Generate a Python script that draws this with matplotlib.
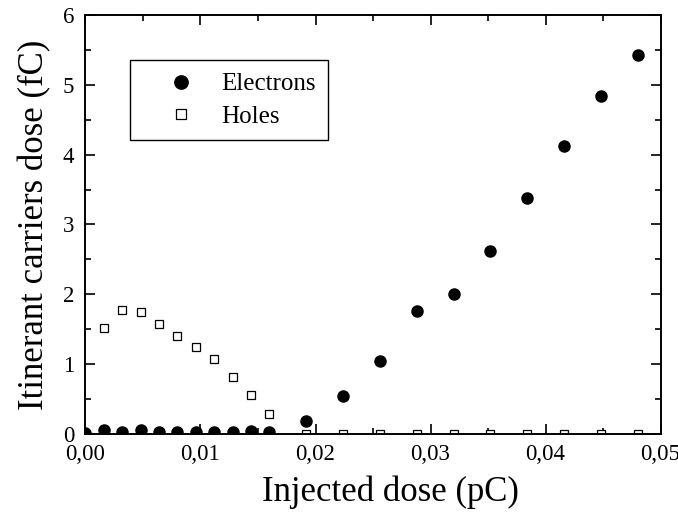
import matplotlib
matplotlib.use("Agg")
import matplotlib.pyplot as plt
from matplotlib.ticker import MultipleLocator, FuncFormatter

plt.rcParams['font.family'] = ['Liberation Serif', 'DejaVu Serif']

# Data (pC, fC)
electron_x = [0.0, 0.0016, 0.0032, 0.0048, 0.0064, 0.0080, 0.0096, 0.0112, 0.0128, 0.0144, 0.0160,
              0.0192, 0.0224, 0.0256, 0.0288, 0.0320, 0.0352, 0.0384, 0.0416, 0.0448, 0.0480]
electron_y = [0.02, 0.05, 0.03, 0.05, 0.03, 0.03, 0.03, 0.03, 0.03, 0.04, 0.03,
              0.19, 0.54, 1.05, 1.76, 2.01, 2.62, 3.38, 4.12, 4.84, 5.43]
hole_x = [0.0016, 0.0032, 0.0048, 0.0064, 0.0080, 0.0096, 0.0112, 0.0128, 0.0144, 0.0160,
          0.0192, 0.0224, 0.0256, 0.0288, 0.0320, 0.0352, 0.0384, 0.0416, 0.0448, 0.0480]
hole_y = [1.52, 1.78, 1.75, 1.58, 1.40, 1.24, 1.08, 0.81, 0.56, 0.29,
          0.0, 0.0, 0.0, 0.0, 0.0, 0.0, 0.0, 0.0, 0.0, 0.0]

fig = plt.figure(figsize=(6.78, 5.15), dpi=100)
ax = fig.add_axes([0.1261, 0.1573, 0.8481, 0.8136])

ax.plot(electron_x, electron_y, linestyle='none', marker='o', markersize=8,
        color='black', label='Electrons')
ax.plot(hole_x, hole_y, linestyle='none', marker='s', markersize=5.8,
        markerfacecolor='white', markeredgecolor='black', markeredgewidth=0.9,
        label='Holes')

ax.set_xlim(0, 0.05)
ax.set_ylim(0, 6)
ax.xaxis.set_major_locator(MultipleLocator(0.01))
ax.xaxis.set_minor_locator(MultipleLocator(0.005))
ax.yaxis.set_major_locator(MultipleLocator(1))
ax.yaxis.set_minor_locator(MultipleLocator(0.5))
ax.xaxis.set_major_formatter(FuncFormatter(lambda v, p: f"{v:.2f}".replace('.', ',')))
ax.yaxis.set_major_formatter(FuncFormatter(lambda v, p: f"{v:.0f}"))

ax.tick_params(which='both', direction='in', top=True, right=True, width=1.2)
ax.tick_params(which='major', length=7, labelsize=16.5)
ax.tick_params(axis='x', which='major', pad=7.5)
ax.tick_params(axis='y', which='major', pad=8)
ax.tick_params(which='minor', length=4)
for s in ax.spines.values():
    s.set_linewidth(1.4)

ax.set_xlabel('Injected dose (pC)', fontsize=25)
ax.xaxis.set_label_coords(0.530, -0.098)
ax.set_ylabel('Itinerant carriers dose (fC)', fontsize=25, labelpad=8)

leg = ax.legend(loc='upper left', bbox_to_anchor=(0.0774, 0.8915), fontsize=18,
                frameon=True, fancybox=False, edgecolor='black', framealpha=1,
                borderpad=0.5, handletextpad=0.05, labelspacing=0.4, handlelength=3.1,
                borderaxespad=0, markerscale=1.2)
leg.get_frame().set_linewidth(1.0)

fig.savefig('out.png', dpi=100)
